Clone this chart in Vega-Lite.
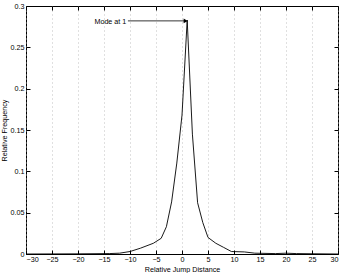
{
  "$schema": "https://vega.github.io/schema/vega-lite/v6.json",
  "width": 312,
  "height": 248,
  "autosize": "none",
  "padding": {"left": 26, "top": 6, "right": 7, "bottom": 19},
  "background": "white",
  "config": {
    "view": {"stroke": "#000", "strokeWidth": 1},
    "font": "Liberation Sans",
    "axis": {
      "labelFont": "Liberation Sans",
      "titleFont": "Liberation Sans",
      "labelFontSize": 7.2,
      "titleFontSize": 7.2,
      "titleFontWeight": "normal",
      "labelColor": "#000",
      "titleColor": "#000",
      "tickColor": "#000",
      "domain": false,
      "tickSize": -4,
      "ticks": true
    }
  },
  "datasets": {
    "curve": [
      {"x": -30, "y": 0},
      {"x": -20, "y": 0.0002},
      {"x": -14, "y": 0.0005},
      {"x": -12, "y": 0.001},
      {"x": -10, "y": 0.003},
      {"x": -8, "y": 0.007},
      {"x": -5.5, "y": 0.013},
      {"x": -4, "y": 0.019},
      {"x": -3, "y": 0.033},
      {"x": -2, "y": 0.063},
      {"x": -1, "y": 0.11},
      {"x": 0, "y": 0.168},
      {"x": 1, "y": 0.283},
      {"x": 2, "y": 0.145},
      {"x": 3, "y": 0.062},
      {"x": 4, "y": 0.038},
      {"x": 5, "y": 0.02},
      {"x": 6.5, "y": 0.013},
      {"x": 8, "y": 0.008},
      {"x": 9.5, "y": 0.003},
      {"x": 12, "y": 0.0025},
      {"x": 14, "y": 0.001},
      {"x": 18, "y": 0.0005},
      {"x": 20, "y": 0.001},
      {"x": 22, "y": 0.0005},
      {"x": 25, "y": 0.0003},
      {"x": 30, "y": 0}
    ],
    "note": [
      {"x0": -10.4, "x1": 0.6, "y": 0.282, "tx": -10.7, "hx": 0.7, "label": "Mode at 1"}
    ]
  },
  "resolve": {"axis": {"x": "independent", "y": "independent"}},
  "layer": [
    {
      "data": {"name": "curve"},
      "mark": {"type": "line", "color": "#000", "strokeWidth": 0.9},
      "encoding": {
        "x": {
          "field": "x", "type": "quantitative",
          "scale": {"domain": [-30, 30], "nice": false, "zero": false},
          "axis": {
            "title": "Relative Jump Distance",
            "values": [-30, -25, -20, -15, -10, -5, 0, 5, 10, 15, 20, 25, 30],
            "grid": true, "gridDash": [1, 3], "gridColor": "#b0b0b0", "gridWidth": 0.8,
            "labelPadding": 5, "titleY": 17.5, "titleBaseline": "alphabetic"
          }
        },
        "y": {
          "field": "y", "type": "quantitative",
          "scale": {"domain": [0, 0.3], "nice": false},
          "axis": {
            "title": "Relative Frequency",
            "values": [0, 0.05, 0.1, 0.15, 0.2, 0.25, 0.3],
            "grid": false, "labelPadding": 6, "titlePadding": 2,
            "labelExpr": "datum.value == 0 ? '0' : format(datum.value, '.2~f')"
          }
        }
      }
    },
    {
      "data": {"name": "note"},
      "mark": {"type": "rule", "color": "#000", "strokeWidth": 0.8},
      "encoding": {
        "x": {
          "field": "x0", "type": "quantitative",
          "scale": {"domain": [-30, 30], "nice": false, "zero": false},
          "axis": {"orient": "top", "labels": false, "title": null, "grid": false,
                   "values": [-30, -25, -20, -15, -10, -5, 0, 5, 10, 15, 20, 25, 30]}
        },
        "x2": {"field": "x1"},
        "y": {
          "field": "y", "type": "quantitative",
          "scale": {"domain": [0, 0.3], "nice": false},
          "axis": {"orient": "right", "labels": false, "title": null, "grid": false,
                   "values": [0, 0.05, 0.1, 0.15, 0.2, 0.25, 0.3]}
        }
      }
    },
    {
      "data": {"name": "note"},
      "mark": {"type": "point", "shape": "triangle-right", "filled": true, "color": "#000", "size": 22, "opacity": 1},
      "encoding": {
        "x": {"field": "hx", "type": "quantitative", "axis": null},
        "y": {"field": "y", "type": "quantitative", "axis": null}
      }
    },
    {
      "data": {"name": "note"},
      "mark": {"type": "text", "align": "right", "baseline": "middle", "fontSize": 7.2, "font": "Liberation Sans", "color": "#000", "dy": 1},
      "encoding": {
        "x": {"field": "tx", "type": "quantitative", "axis": null},
        "y": {"field": "y", "type": "quantitative", "axis": null},
        "text": {"field": "label"}
      }
    }
  ]
}
